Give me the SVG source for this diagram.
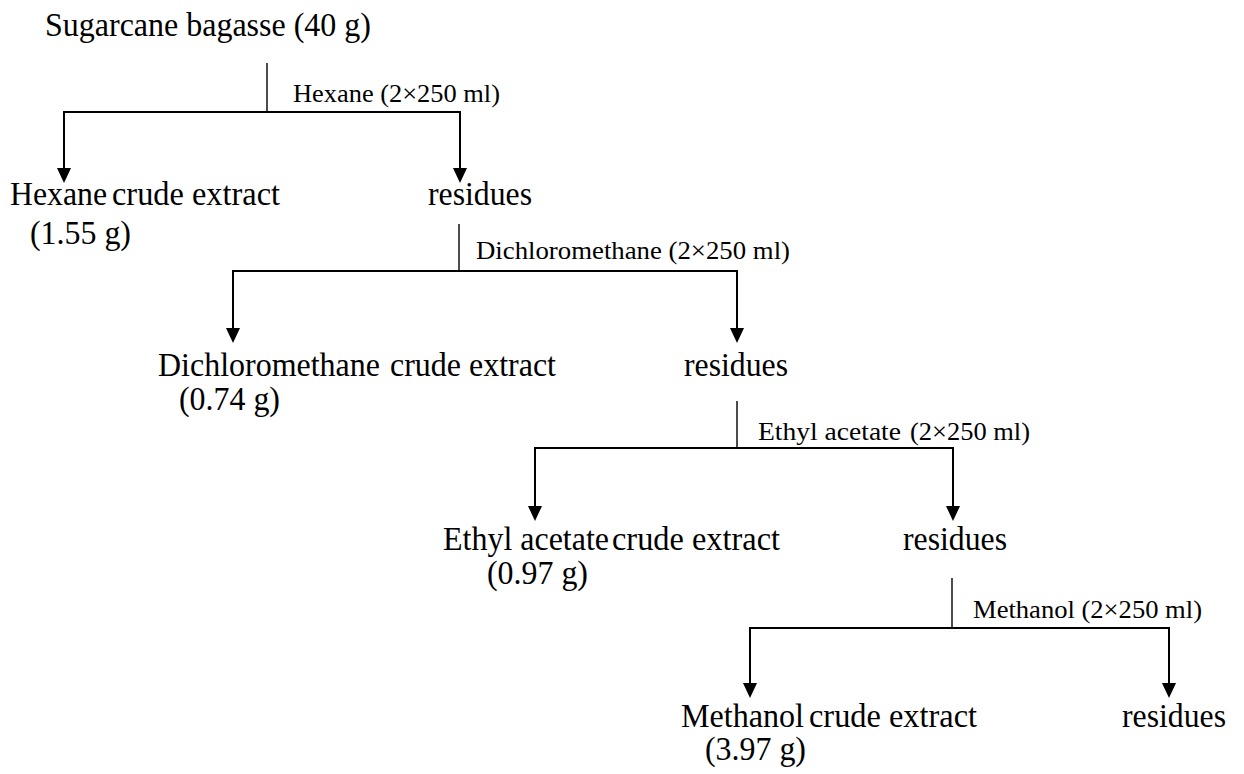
<svg xmlns="http://www.w3.org/2000/svg" width="1244" height="774" viewBox="0 0 1244 774">
  <style>
    .main { font-family: "Liberation Serif", "Times New Roman", serif; font-size: 33px; fill: #000; }
    .lbl { font-family: "Liberation Serif", "Times New Roman", serif; font-size: 26px; fill: #000; }
    .stem { stroke: #000; stroke-width: 1.4; fill: none; }
    .conn { stroke: #000; stroke-width: 2; fill: none; }
  </style>
  <defs>
    <marker id="ah" markerUnits="userSpaceOnUse" markerWidth="16" markerHeight="16" viewBox="0 -8 16 16" refX="1" refY="0" orient="auto">
      <path d="M0,-7 L15,0 L0,7 z" fill="#000"/>
    </marker>
  </defs>
  <rect width="1244" height="774" fill="#fff"/>

  <g id="connectors">
    <!-- level 1 -->
    <line class="stem" x1="267" y1="63" x2="267" y2="112"/>
    <line class="conn" x1="63" y1="112" x2="461" y2="112"/>
    <line class="conn" x1="64" y1="112" x2="64" y2="169" marker-end="url(#ah)"/>
    <line class="conn" x1="460" y1="112" x2="460" y2="169" marker-end="url(#ah)"/>
    <!-- level 2 -->
    <line class="stem" x1="459" y1="224" x2="459" y2="271"/>
    <line class="conn" x1="232" y1="271" x2="738" y2="271"/>
    <line class="conn" x1="233" y1="271" x2="233" y2="329" marker-end="url(#ah)"/>
    <line class="conn" x1="737" y1="271" x2="737" y2="329" marker-end="url(#ah)"/>
    <!-- level 3 -->
    <line class="stem" x1="737" y1="401" x2="737" y2="448"/>
    <line class="conn" x1="534" y1="448" x2="954" y2="448"/>
    <line class="conn" x1="535" y1="448" x2="535" y2="507" marker-end="url(#ah)"/>
    <line class="conn" x1="953" y1="448" x2="953" y2="507" marker-end="url(#ah)"/>
    <!-- level 4 -->
    <line class="stem" x1="952" y1="578" x2="952" y2="628"/>
    <line class="conn" x1="749" y1="628" x2="1170" y2="628"/>
    <line class="conn" x1="750" y1="628" x2="750" y2="684" marker-end="url(#ah)"/>
    <line class="conn" x1="1169" y1="628" x2="1169" y2="684" marker-end="url(#ah)"/>
  </g>

  <g id="node-bagasse">
    <text class="main" x="45" y="36" textLength="326" lengthAdjust="spacingAndGlyphs">Sugarcane bagasse (40 g)</text>
  </g>
  <g id="label-hexane">
    <text class="lbl" x="293" y="102" textLength="207" lengthAdjust="spacingAndGlyphs">Hexane (2×250 ml)</text>
  </g>
  <g id="node-hexane-extract">
    <text class="main" y="205"><tspan x="10" textLength="97" lengthAdjust="spacingAndGlyphs">Hexane</tspan><tspan x="112" textLength="168" lengthAdjust="spacingAndGlyphs">crude extract</tspan></text>
    <text class="main" x="30" y="244" textLength="101" lengthAdjust="spacingAndGlyphs">(1.55 g)</text>
  </g>
  <g id="node-residues-1">
    <text class="main" x="428" y="205" textLength="104" lengthAdjust="spacingAndGlyphs">residues</text>
  </g>
  <g id="label-dcm">
    <text class="lbl" x="476" y="259" textLength="314" lengthAdjust="spacingAndGlyphs">Dichloromethane (2×250 ml)</text>
  </g>
  <g id="node-dcm-extract">
    <text class="main" y="376"><tspan x="158" textLength="222" lengthAdjust="spacingAndGlyphs">Dichloromethane</tspan><tspan x="390" textLength="166" lengthAdjust="spacingAndGlyphs">crude extract</tspan></text>
    <text class="main" x="179" y="410" textLength="101" lengthAdjust="spacingAndGlyphs">(0.74 g)</text>
  </g>
  <g id="node-residues-2">
    <text class="main" x="684" y="376" textLength="104" lengthAdjust="spacingAndGlyphs">residues</text>
  </g>
  <g id="label-etoac">
    <text class="lbl" y="440"><tspan x="758" textLength="143" lengthAdjust="spacingAndGlyphs">Ethyl acetate</tspan><tspan x="910" textLength="120" lengthAdjust="spacingAndGlyphs">(2×250 ml)</tspan></text>
  </g>
  <g id="node-etoac-extract">
    <text class="main" y="550"><tspan x="443" textLength="166" lengthAdjust="spacingAndGlyphs">Ethyl acetate</tspan><tspan x="612" textLength="168" lengthAdjust="spacingAndGlyphs">crude extract</tspan></text>
    <text class="main" x="487" y="584" textLength="101" lengthAdjust="spacingAndGlyphs">(0.97 g)</text>
  </g>
  <g id="node-residues-3">
    <text class="main" x="903" y="550" textLength="104" lengthAdjust="spacingAndGlyphs">residues</text>
  </g>
  <g id="label-meoh">
    <text class="lbl" x="973" y="618" textLength="229" lengthAdjust="spacingAndGlyphs">Methanol (2×250 ml)</text>
  </g>
  <g id="node-meoh-extract">
    <text class="main" y="727"><tspan x="681" textLength="123" lengthAdjust="spacingAndGlyphs">Methanol</tspan><tspan x="809" textLength="168" lengthAdjust="spacingAndGlyphs">crude extract</tspan></text>
    <text class="main" x="705" y="760" textLength="101" lengthAdjust="spacingAndGlyphs">(3.97 g)</text>
  </g>
  <g id="node-residues-4">
    <text class="main" x="1122" y="727" textLength="104" lengthAdjust="spacingAndGlyphs">residues</text>
  </g>
</svg>
